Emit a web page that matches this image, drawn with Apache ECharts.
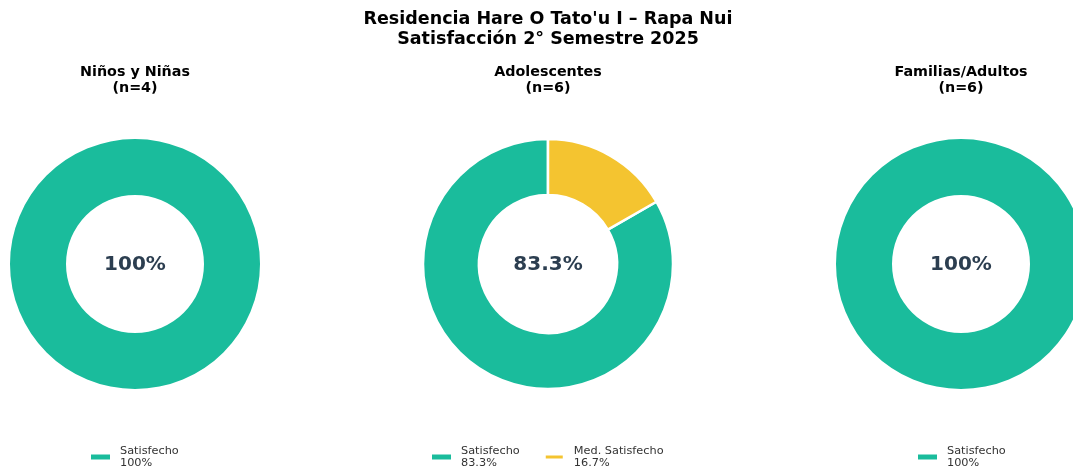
<!DOCTYPE html>
<html lang="es">
<head>
  <meta charset="UTF-8">
  <title>Satisfacción 2° Semestre 2025</title>
  <script src="https://cdn.jsdelivr.net/npm/echarts@6/dist/echarts.min.js"></script>
  <style>
    html, body { margin: 0; padding: 0; background: #fff; }
  </style>
</head>
<body>
<div id="main" style="width: 1073px;height:471px;"></div>
<script type="text/javascript">

// datos
var groups = ['Niños y Niñas', 'Adolescentes', 'Familias/Adultos'];
var nCounts = [4, 6, 6];
var categories = ['Satisfecho', 'Med. Satisfecho'];
var satisfecho = [100, 83.3, 100];
var medSatisfecho = [0, 16.7, 0];
var centerLabels = ['100%', '83.3%', '100%'];

var colors = { 'Satisfecho': '#1ABC9C', 'Med. Satisfecho': '#F4C430' };
var centersX = [135, 548, 961];
var legendLeft = [91, 432, 918];
var centerY = 264;
var font = 'DejaVu Sans';

function fmtPct(v) {
  return (v % 1 === 0 ? v.toFixed(0) : v.toFixed(1)) + '%';
}

var titles = [{
  text: "Residencia Hare O Tato'u I – Rapa Nui\nSatisfacción 2° Semestre 2025",
  left: 548,
  top: 9,
  padding: 0,
  textAlign: 'center',
  textStyle: { fontFamily: font, fontSize: 17.5, fontWeight: 'bold', color: '#000', lineHeight: 20 }
}];
var legends = [];
var series = [];

groups.forEach(function (g, i) {
  var vals = [satisfecho[i], medSatisfecho[i]];
  var data = [];
  categories.forEach(function (c, k) {
    if (vals[k] > 0) data.push({ name: c, value: vals[k], itemStyle: { color: colors[c] } });
  });

  titles.push({
    text: g + '\n(n=' + nCounts[i] + ')',
    left: centersX[i],
    top: 64,
    padding: 0,
    textAlign: 'center',
    textStyle: { fontFamily: font, fontSize: 14.3, fontWeight: 'bold', color: '#000', lineHeight: 16 }
  });
  titles.push({
    text: centerLabels[i],
    left: centersX[i],
    top: centerY - 10,
    padding: 0,
    textAlign: 'center',
    textStyle: { fontFamily: font, fontSize: 20, fontWeight: 'bold', color: '#2C3E50', lineHeight: 22 }
  });

  var pctMap = {};
  data.forEach(function (d) { pctMap[d.name] = fmtPct(d.value); });
  legends.push({
    data: data.map(function (d) { return d.name; }),
    left: legendLeft[i],
    top: 445,
    padding: 0,
    orient: 'horizontal',
    icon: 'rect',
    itemWidth: 19,
    itemHeight: 5,
    itemGap: 24,
    selectedMode: false,
    textStyle: { fontFamily: font, fontSize: 11.3, color: '#333', lineHeight: 12, padding: [0, 0, 0, 5] },
    formatter: function (name) { return name + '\n' + pctMap[name]; }
  });

  series.push({
    name: g,
    type: 'pie',
    center: [centersX[i], centerY],
    radius: [69, 125],
    startAngle: 90,
    clockwise: false,
    silent: true,
    label: { show: false },
    labelLine: { show: false },
    itemStyle: { borderColor: '#fff', borderWidth: data.length > 1 ? 2.5 : 0 },
    data: data
  });
});

var myChart = echarts.init(document.getElementById('main'));
myChart.setOption({
  backgroundColor: '#fff',
  animation: false,
  title: titles,
  legend: legends,
  series: series
});

</script>
</body>
</html>
